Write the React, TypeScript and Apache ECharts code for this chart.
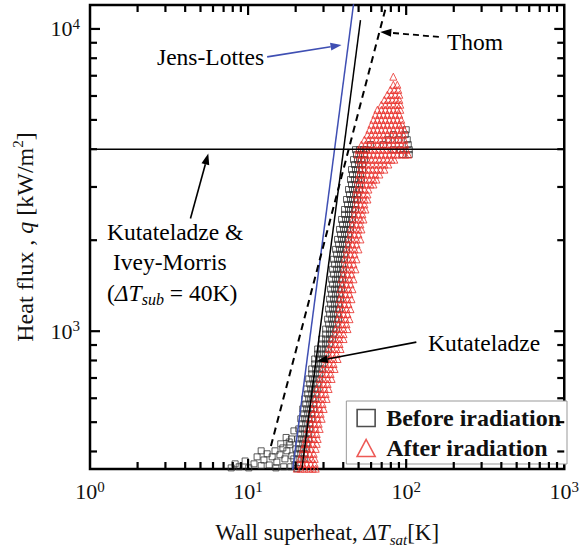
import React, { useEffect, useRef } from 'react';
import * as echarts from 'echarts';

const SERIF = '"Liberation Serif", "Times New Roman", Times, serif';
const BLUE = '#3f4fb3';
const RED = '#e8302a';
const INK = '#111';

const X_MIN = 1;
const X_MAX = 1000;
const Y_MIN = 350;
const Y_MAX = 12000;

const X_MAJOR_TICKS = [10, 100];
const X_MINOR_TICKS = [2, 3, 4, 5, 6, 7, 8, 9, 20, 30, 40, 50, 60, 70, 80, 90, 200, 300, 400, 500, 600, 700, 800, 900];
const Y_MAJOR_TICKS = [1000, 10000];
const Y_MINOR_TICKS = [400, 500, 600, 700, 800, 900, 2000, 3000, 4000, 5000, 6000, 7000, 8000, 9000];

// correlation lines [ΔTsat, q]
const JENS_LOTTES = [[19.1, 345], [47.5, 13200]];
const KUTATELADZE = [[21.9, 350], [51.4, 10700]];
const THOM = [[13.95, 417], [76, 12300]];
const CHF_KUTATELADZE_IVEY = [[1, 4000], [1000, 4000]];

// Before irradiation: scattered low points [ΔTsat, q]
const BEFORE_LOW = [
  [7.82, 353], [8.28, 364], [8.78, 356], [9.58, 372], [10.1, 353], [10.9, 364], [11.4, 384], [12.1, 359],
  [12.1, 402], [12.6, 375], [13.2, 393], [13.6, 361], [14.2, 384], [14.8, 402], [15.0, 353], [15.2, 369],
  [15.9, 390], [16.1, 424], [16.6, 411], [16.8, 356], [17.1, 378], [17.4, 445], [17.6, 402], [18.2, 430],
  [18.4, 421], [18.6, 356], [18.8, 440], [18.9, 387], [19.5, 468], [19.8, 361], [20.4, 351],
];

// Before irradiation: rows [q, [ΔTsat ...]]
const BEFORE_ROWS: [number, number[]][] = [
  [378, [19.47, 20.63, 21.86, 22.83]], [393, [20.33, 21.55, 22.83]],
  [408, [20.04, 21.24, 22.5, 23.5]], [424, [20.93, 22.18, 23.5]],
  [440, [20.63, 21.86, 23.16, 24.19]], [457, [21.55, 22.83, 24.19]],
  [475, [20.93, 22.18, 23.5, 24.55]], [494, [21.86, 23.16, 24.55]],
  [513, [21.55, 22.83, 24.19, 25.27]], [533, [22.5, 23.84, 25.27]],
  [553, [22.18, 23.5, 24.9, 26.01]], [574, [23.16, 24.55, 26.01]],
  [597, [22.83, 24.19, 25.64, 26.78]], [620, [23.84, 25.27, 26.78]],
  [644, [23.5, 24.9, 26.39, 27.56]], [669, [24.55, 26.01, 27.56]],
  [695, [24.19, 25.64, 27.17, 28.37]], [722, [25.27, 26.78, 28.37]],
  [750, [25.27, 26.78, 28.37, 29.63]], [779, [26.39, 27.97, 29.63]],
  [809, [26.39, 27.97, 29.63, 30.95]], [840, [27.56, 29.21, 30.95]],
  [873, [27.56, 29.21, 30.95, 32.32]], [907, [29.21, 30.95, 32.8]],
  [942, [29.21, 30.95, 32.8, 34.25]], [978, [30.95, 32.8, 34.75]],
  [1016, [30.95, 32.8, 34.75, 36.3]], [1055, [32.32, 34.25, 36.3]],
  [1096, [31.86, 33.76, 35.78, 37.37]], [1139, [32.8, 34.75, 36.83]],
  [1183, [32.32, 34.25, 36.3, 37.91]], [1229, [33.27, 35.26, 37.37]],
  [1276, [32.8, 34.75, 36.83, 38.46]], [1326, [33.76, 35.78, 37.91]],
  [1377, [33.27, 35.26, 37.37, 39.03]], [1430, [34.25, 36.3, 38.46]],
  [1485, [33.76, 35.78, 37.91, 39.6]], [1543, [34.75, 36.83, 39.03]],
  [1602, [34.25, 36.3, 38.46, 40.18]], [1665, [35.26, 37.37, 39.6]],
  [1729, [34.75, 36.83, 39.03, 40.76]], [1797, [36.3, 38.46, 40.76]],
  [1865, [35.78, 37.91, 40.18, 41.96]], [1938, [37.37, 39.6, 41.96]],
  [2012, [36.83, 39.03, 41.36, 43.19]], [2091, [38.46, 40.76, 43.19]],
  [2171, [37.91, 40.18, 42.57, 44.46]], [2256, [39.6, 41.96, 44.46]],
  [2342, [39.03, 41.36, 43.82, 45.77]], [2435, [40.76, 43.19, 45.77]],
  [2527, [40.76, 43.19, 45.77, 47.8]], [2627, [42.57, 45.11, 47.8]],
  [2727, [41.96, 44.46, 47.11, 49.21]], [2834, [43.82, 46.44, 49.21]],
  [2942, [43.19, 45.77, 48.5, 50.65]], [3058, [45.11, 47.8, 50.65]],
  [3174, [44.46, 47.11, 49.93, 52.14]], [3299, [45.77, 48.5, 51.39]],
  [3424, [45.11, 47.8, 50.65, 52.91]], [3560, [47.11, 49.93, 52.91]],
  [3694, [46.44, 49.21, 52.14, 54.46]], [3841, [48.5, 51.39, 54.46, 94.5, 104.6]],
  [3986, [47.8, 50.65, 53.68, 56.07, 82.94, 91.8, 104.6]], [4144, [59.42, 71.75, 103.1]],
  [4301, [77.14, 89.18, 101.6]], [4471, [82.94, 98.7]], [4640, [100.1]],
];

// After irradiation: rows [q, [ΔTsat ...]]
const AFTER_ROWS: [number, number[]][] = [
  [351, [20.33, 21.55, 22.83, 24.19, 25.64, 26.78]], [364, [20.93, 22.18, 23.5, 24.9, 26.39]],
  [378, [21.24, 22.5, 23.84, 25.27, 26.39]], [393, [21.86, 23.16, 24.55, 26.01]],
  [408, [22.18, 23.5, 24.9, 26.78]], [424, [22.83, 24.19, 25.64, 27.17]],
  [440, [23.16, 24.55, 26.01, 27.56]], [457, [24.19, 25.64, 27.17]],
  [475, [23.84, 25.27, 26.78, 28.37]], [494, [24.9, 26.39, 27.97]],
  [513, [24.55, 26.01, 27.56, 29.21]], [533, [25.64, 27.17, 28.79]],
  [553, [25.27, 26.78, 28.37, 30.07]], [574, [26.39, 27.97, 29.63]],
  [597, [26.39, 27.97, 29.63, 31.4]], [620, [27.56, 29.21, 30.95]],
  [644, [27.17, 28.79, 30.5, 32.32]], [669, [28.37, 30.07, 31.86]],
  [695, [28.37, 30.07, 31.86, 33.76]], [722, [29.63, 31.4, 33.27]],
  [750, [29.63, 31.4, 33.27, 35.26]], [779, [30.95, 32.8, 34.75]],
  [809, [30.95, 32.8, 34.75, 36.83]], [840, [32.32, 34.25, 36.3]],
  [873, [32.32, 34.25, 36.3, 38.46]], [907, [33.76, 35.78, 37.91]],
  [942, [33.76, 35.78, 37.91, 40.18]], [978, [35.78, 37.91, 40.18]],
  [1016, [35.78, 37.91, 40.18, 42.57]], [1055, [37.37, 39.6, 41.96]],
  [1096, [36.83, 39.03, 41.36, 43.82]], [1139, [37.91, 40.18, 42.57]],
  [1183, [37.37, 39.6, 41.96, 44.46]], [1229, [38.46, 40.76, 43.19]],
  [1276, [37.91, 40.18, 42.57, 45.11]], [1326, [39.03, 41.36, 43.82]],
  [1377, [38.46, 40.76, 43.19, 45.77]], [1430, [39.6, 41.96, 44.46]],
  [1485, [39.03, 41.36, 43.82, 46.44]], [1543, [40.18, 42.57, 45.11]],
  [1602, [40.18, 42.57, 45.11, 47.8]], [1665, [41.36, 43.82, 46.44]],
  [1729, [40.76, 43.19, 45.77, 48.5]], [1797, [41.96, 44.46, 47.11]],
  [1865, [41.96, 44.46, 47.11, 49.93]], [1938, [43.19, 45.77, 48.5]],
  [2012, [43.19, 45.77, 48.5, 51.39]], [2091, [44.46, 47.11, 49.93]],
  [2171, [44.46, 47.11, 49.93, 52.14]], [2256, [45.77, 48.5, 51.39]],
  [2342, [45.77, 48.5, 51.39, 53.68]], [2435, [47.11, 49.93, 52.91]],
  [2527, [47.11, 49.93, 52.91, 55.26]], [2627, [48.5, 51.39, 54.46]],
  [2727, [48.5, 51.39, 54.46, 56.89]], [2834, [47.8, 50.65, 53.68, 56.89]],
  [2942, [48.5, 51.39, 54.46, 57.72]], [3058, [49.93, 52.91, 56.07, 59.42, 62.06]],
  [3174, [49.21, 52.14, 55.26, 58.56, 62.06, 64.82]],
  [3299, [50.65, 53.68, 56.89, 60.29, 63.89, 67.7]],
  [3424, [51.39, 54.46, 57.72, 61.17, 64.82, 68.69, 72.79]],
  [3560, [51.39, 54.46, 57.72, 61.17, 64.82, 68.69, 72.79, 77.14]],
  [3694, [50.65, 53.68, 56.89, 60.29, 63.89, 67.7, 71.75, 76.03, 80.57, 84.16]],
  [3841, [49.21, 52.14, 55.26, 58.56, 62.06, 65.77, 69.7, 73.86, 78.27, 82.94, 87.9, 93.1, 98.7, 103.1]],
  [3986, [49.93, 52.91, 56.07, 59.42, 62.97, 66.73, 70.71, 74.94, 79.41, 84.16, 89.18, 94.5, 100.1]],
  [4144, [52.14, 55.26, 58.56, 62.06, 65.77, 69.7, 73.86, 78.27, 82.94, 87.9, 93.1, 98.7]],
  [4301, [54.46, 57.72, 61.17, 64.82, 68.69, 72.79, 77.14, 81.75, 86.63, 91.8, 97.3]],
  [4471, [56.89, 60.29, 63.89, 67.7, 71.75, 76.03, 80.57, 85.39, 90.5, 95.9]],
  [4640, [58.56, 62.06, 65.77, 69.7, 73.86, 78.27, 82.94, 87.9, 93.1, 97.3]],
  [4824, [60.29, 63.89, 67.7, 71.75, 76.03, 80.57, 85.39, 90.5, 94.5]],
  [5006, [62.06, 65.77, 69.7, 73.86, 78.27, 82.94, 87.9, 93.1]],
  [5204, [63.89, 67.7, 71.75, 76.03, 80.57, 85.39, 90.5]],
  [5401, [65.77, 69.7, 73.86, 78.27, 82.94, 87.9, 91.8]],
  [5615, [69.7, 73.86, 78.27, 82.94, 87.9, 91.8]],
  [5827, [72.79, 77.14, 81.75, 86.63, 90.5]],
  [6058, [76.03, 80.57, 85.39, 90.5]],
  [6287, [79.41, 84.16, 89.18]],
  [6536, [82.94, 87.9]],
  [6950, [82.94]],
];

const rowsToPoints = (rows: [number, number[]][]) =>
  rows.flatMap(([q, ts]) => ts.map((t) => [t, q]));

const BEFORE_IRRADIATION = [...BEFORE_LOW, ...rowsToPoints(BEFORE_ROWS)];
const AFTER_IRRADIATION = rowsToPoints(AFTER_ROWS);

// annotation arrows, in data coordinates (tail -> head)
const ARROWS = [
  { from: [13.2, 8084], to: [39.0, 8853], color: BLUE, dash: false },
  { from: [161, 9410], to: [68.6, 9775], color: '#000', dash: true },
  { from: [4.32, 2360], to: [5.6, 3868], color: '#000', dash: false },
  { from: [116, 920], to: [27.2, 796], color: '#000', dash: false },
];

const makeRich = (size: number) => ({
  n: { fontFamily: SERIF, fontSize: size, color: INK, lineHeight: size + 6 },
  i: { fontFamily: SERIF, fontSize: size, fontStyle: 'italic', color: INK, lineHeight: size + 6 },
  sub: { fontFamily: SERIF, fontSize: Math.round(size * 0.66), fontStyle: 'italic', color: INK, verticalAlign: 'bottom', lineHeight: 14 },
  s: { fontFamily: SERIF, fontSize: Math.round(size * 0.62), color: INK, verticalAlign: 'top', lineHeight: 14 },
});

const annoRich = makeRich(23.5);

const LABELS = [
  { text: '{n|Jens-Lottes}', x: 157, y: 57 },
  { text: '{n|Thom}', x: 447, y: 42 },
  { text: '{n|Kutateladze &}', x: 107, y: 232 },
  { text: '{n|Ivey-Morris}', x: 113, y: 262 },
  { text: '{n|(}{i|ΔT}{sub|sub}{n| = 40K)}', x: 107, y: 293 },
  { text: '{n|Kutateladze}', x: 428, y: 343 },
];

const TICK_DATA = [
  ...X_MAJOR_TICKS.map((v) => [v, Y_MIN, 0, 1]),
  ...X_MINOR_TICKS.map((v) => [v, Y_MIN, 0, 0]),
  ...Y_MAJOR_TICKS.map((v) => [X_MIN, v, 1, 1]),
  ...Y_MINOR_TICKS.map((v) => [X_MIN, v, 1, 0]),
];

const powLabel = (v: number) => {
  const e = Math.log10(v);
  const r = Math.round(e);
  if (Math.abs(e - r) > 1e-6) return '';
  return `{b|10}{s|${r}}`;
};

const tickRich = {
  b: { fontFamily: SERIF, fontSize: 22, color: INK, lineHeight: 25 },
  s: { fontFamily: SERIF, fontSize: 15, color: INK, verticalAlign: 'top', lineHeight: 15 },
};

export default function App() {
  const ref = useRef<HTMLDivElement>(null);

  useEffect(() => {
    if (!ref.current) return;
    const chart = echarts.init(ref.current, null, { renderer: 'svg' });

    const option: any = {
      animation: false,
      backgroundColor: '#fff',
      grid: {
        left: 90, right: 15, top: 5, bottom: 82,
        show: true, borderColor: '#000', borderWidth: 2.5, backgroundColor: 'transparent',
      },
      xAxis: {
        type: 'log', logBase: 10, min: X_MIN, max: X_MAX,
        axisLine: { show: false }, axisTick: { show: false }, splitLine: { show: false },
        axisLabel: { formatter: powLabel, rich: tickRich, margin: 10 },
        name: '{n|Wall superheat, }{i|ΔT}{sub|sat}{n|[K]}',
        nameLocation: 'middle', nameGap: 49,
        nameTextStyle: { rich: makeRich(23) },
      },
      yAxis: {
        type: 'log', logBase: 10, min: Y_MIN, max: Y_MAX,
        axisLine: { show: false }, axisTick: { show: false }, splitLine: { show: false },
        axisLabel: { formatter: powLabel, rich: tickRich, margin: 10 },
        name: '{n|Heat flux , }{i|q}{n| [kW/m}{s|2}{n|]}',
        nameLocation: 'middle', nameGap: 50,
        nameTextStyle: { rich: makeRich(24) },
      },
      legend: {
        orient: 'vertical', right: 15, top: 401,
        backgroundColor: '#fff', borderColor: '#999', borderWidth: 1,
        padding: [5, 6, 4, 10],
        itemWidth: 18, itemHeight: 17, itemGap: 6,
        selectedMode: false,
        textStyle: { fontFamily: SERIF, fontSize: 24, fontWeight: 'bold', color: INK, padding: [0, 0, 0, 6] },
        data: [
          { name: 'Before iradiation', icon: 'rect', itemStyle: { color: '#fff', borderColor: '#222', borderWidth: 1.6 } },
          { name: 'After iradiation', icon: 'triangle', itemStyle: { color: '#fff', borderColor: RED, borderWidth: 1.6 } },
        ],
      },
      series: [
        {
          name: 'Before iradiation', type: 'scatter', data: BEFORE_IRRADIATION,
          symbol: 'rect', symbolSize: 6, z: 2, silent: true,
          itemStyle: { color: 'rgba(0,0,0,0)', borderColor: '#333', borderWidth: 1 },
        },
        {
          name: 'After iradiation', type: 'scatter', data: AFTER_IRRADIATION,
          symbol: 'triangle', symbolSize: 7, z: 3, silent: true,
          itemStyle: { color: 'rgba(0,0,0,0)', borderColor: RED, borderWidth: 1 },
        },
        {
          name: 'Jens-Lottes', type: 'line', data: JENS_LOTTES, symbol: 'none', z: 4, silent: true,
          lineStyle: { color: BLUE, width: 1.5 },
        },
        {
          name: 'Kutateladze', type: 'line', data: KUTATELADZE, symbol: 'none', z: 4, silent: true,
          lineStyle: { color: '#000', width: 1.5 },
        },
        {
          name: 'Thom', type: 'line', data: THOM, symbol: 'none', z: 4, silent: true,
          lineStyle: { color: '#000', width: 2, type: [7, 5] },
        },
        {
          name: 'Kutateladze & Ivey-Morris', type: 'line', data: CHF_KUTATELADZE_IVEY, symbol: 'none', z: 4, silent: true,
          lineStyle: { color: '#000', width: 1.5 },
        },
        {
          name: 'ticks', type: 'custom', data: TICK_DATA, z: 10, silent: true,
          encode: { x: 0, y: 1 },
          renderItem: (_p: any, api: any) => {
            const kind = api.value(2);
            const len = api.value(3) ? 10 : 7;
            const st = { stroke: '#000', lineWidth: 2.2 };
            if (kind === 0) {
              const v = api.value(0);
              const b = api.coord([v, Y_MIN]);
              const t = api.coord([v, Y_MAX]);
              return {
                type: 'group',
                children: [
                  { type: 'line', shape: { x1: b[0], y1: b[1], x2: b[0], y2: b[1] - len }, style: st },
                  { type: 'line', shape: { x1: t[0], y1: t[1], x2: t[0], y2: t[1] + len }, style: st },
                ],
              };
            }
            const v = api.value(1);
            const l = api.coord([X_MIN, v]);
            const r = api.coord([X_MAX, v]);
            return {
              type: 'group',
              children: [
                { type: 'line', shape: { x1: l[0], y1: l[1], x2: l[0] + len, y2: l[1] }, style: st },
                { type: 'line', shape: { x1: r[0], y1: r[1], x2: r[0] - len, y2: r[1] }, style: st },
              ],
            };
          },
        },
      ],
    };

    chart.setOption(option);

    const toPx = (p: number[]) => chart.convertToPixel({ gridIndex: 0 } as any, p) as number[];
    const graphics: any[] = [];
    ARROWS.forEach((a) => {
      const [x1, y1] = toPx(a.from);
      const [x2, y2] = toPx(a.to);
      const ang = Math.atan2(y2 - y1, x2 - x1);
      const L = 11;
      const W = 4;
      const bx = x2 - L * Math.cos(ang);
      const by = y2 - L * Math.sin(ang);
      const nx = -Math.sin(ang) * W;
      const ny = Math.cos(ang) * W;
      const lineStyle: any = { stroke: a.color, lineWidth: a.dash ? 1.8 : 1.6 };
      if (a.dash) lineStyle.lineDash = [6, 4];
      graphics.push({ type: 'line', z: 20, silent: true, shape: { x1, y1, x2: bx, y2: by }, style: lineStyle });
      graphics.push({
        type: 'polygon', z: 20, silent: true,
        shape: { points: [[x2, y2], [bx + nx, by + ny], [bx - nx, by - ny]] },
        style: { fill: a.color },
      });
    });
    LABELS.forEach((t) => {
      graphics.push({
        type: 'text', x: t.x, y: t.y, z: 20, silent: true,
        style: { text: t.text, rich: annoRich, align: 'left', verticalAlign: 'middle' },
      });
    });
    chart.setOption({ graphic: graphics });

    return () => chart.dispose();
  }, []);

  return (
    <div
      ref={ref}
      style={{ position: 'fixed', left: 0, top: 0, width: 582, height: 552, background: '#fff' }}
    />
  );
}
